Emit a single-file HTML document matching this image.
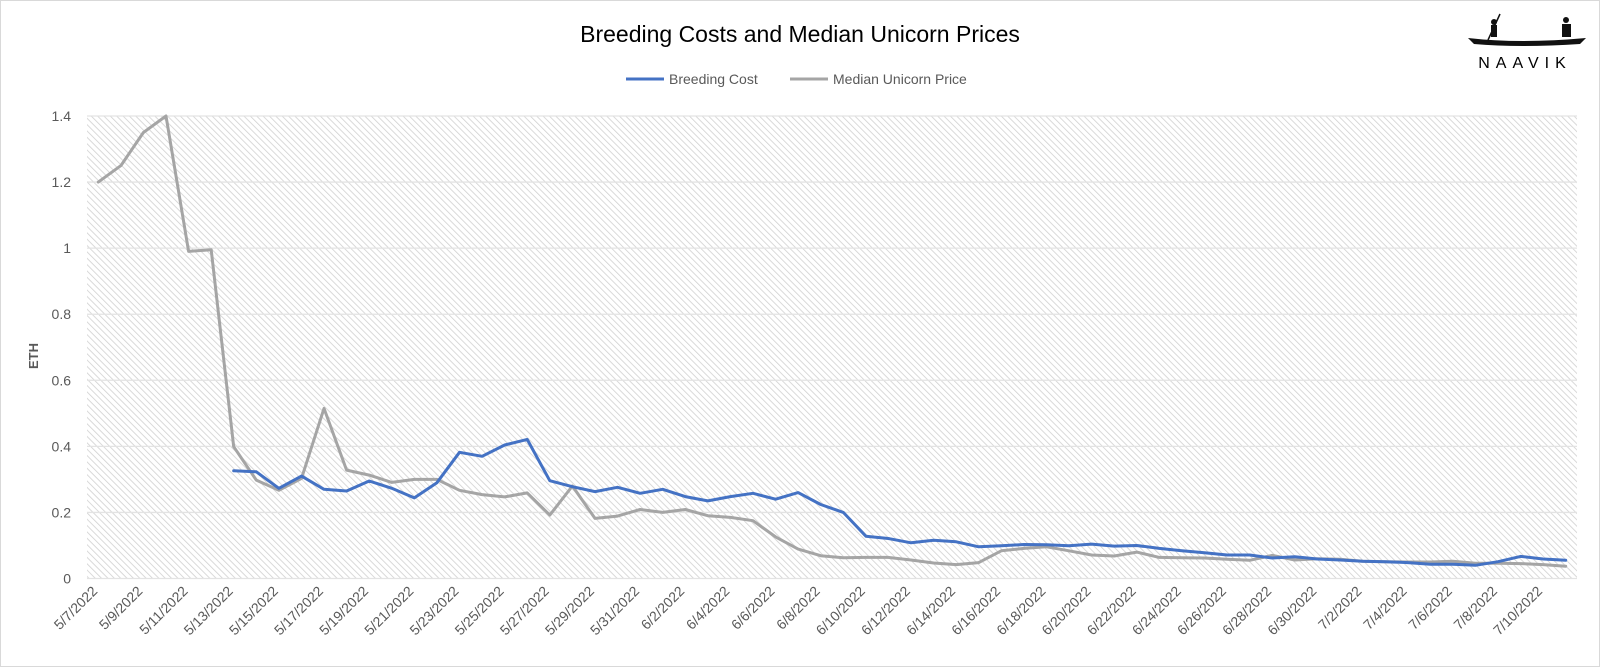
<!DOCTYPE html>
<html><head><meta charset="utf-8"><style>
body{margin:0;background:#fff;font-family:"Liberation Sans",sans-serif}
svg text{font-family:"Liberation Sans",sans-serif}
</style></head><body>
<svg id="chart" width="1600" height="667" viewBox="0 0 1600 667" xmlns="http://www.w3.org/2000/svg">
<defs>
<pattern id="hatch" patternUnits="userSpaceOnUse" width="4.5" height="4.5" patternTransform="rotate(-45)">
<rect width="4.5" height="4.5" fill="#fff"/><line x1="0" y1="0" x2="0" y2="4.5" stroke="#d0d0d0" stroke-width="1.6"/>
</pattern>
</defs>
<rect x="0.5" y="0.5" width="1599" height="666" fill="#fff" stroke="#d9d9d9"/>
<text x="800" y="42" font-size="23" text-anchor="middle" fill="#000">Breeding Costs and Median Unicorn Prices</text>
<g>
<line x1="626" y1="79" x2="664" y2="79" stroke="#4472C4" stroke-width="3"/>
<text x="669" y="84" font-size="14" fill="#595959">Breeding Cost</text>
<line x1="790" y1="79" x2="828" y2="79" stroke="#A5A5A5" stroke-width="3"/>
<text x="833" y="84" font-size="14" fill="#595959">Median Unicorn Price</text>
</g>
<g>
<path d="M1468 38 Q1520 44 1586 38 L1580 44 Q1520 48 1474 44 Z" fill="#111"/>
<line x1="1488" y1="40" x2="1500" y2="14" stroke="#111" stroke-width="1.5"/>
<circle cx="1494" cy="22" r="3" fill="#111"/><rect x="1491" y="25" width="6" height="12" fill="#111"/>
<circle cx="1566" cy="20" r="3" fill="#111"/><rect x="1562" y="24" width="9" height="13" fill="#111"/>
<text x="1525" y="68" font-size="16" text-anchor="middle" letter-spacing="6" fill="#000">NAAVIK</text>
</g>
<text transform="translate(38,356) rotate(-90)" font-size="13" font-weight="bold" text-anchor="middle" fill="#595959">ETH</text>
<g id="plot"></g>
</svg>
<script>
const categories = (function(){const a=[];const d=new Date(2022,4,7);for(let i=0;i<66;i++){const t=new Date(d.getTime()+i*86400000);a.push((t.getMonth()+1)+'/'+t.getDate()+'/'+t.getFullYear());}return a;})();
const breedingCost = [null,null,null,null,null,null,0.326,0.323,0.273,0.31,0.27,0.265,0.295,0.273,0.244,0.29,0.382,0.370,0.404,0.421,0.296,0.278,0.263,0.276,0.258,0.270,0.248,0.235,0.248,0.258,0.240,0.260,0.224,0.20,0.128,0.121,0.108,0.116,0.111,0.096,0.099,0.103,0.102,0.099,0.104,0.098,0.10,0.091,0.084,0.078,0.071,0.071,0.062,0.066,0.059,0.056,0.052,0.051,0.048,0.043,0.043,0.04,0.051,0.067,0.059,0.055];
const medianPrice = [1.2,1.25,1.35,1.4,0.99,0.995,0.399,0.298,0.267,0.303,0.515,0.328,0.313,0.291,0.300,0.300,0.267,0.254,0.247,0.259,0.192,0.28,0.182,0.189,0.209,0.2,0.209,0.19,0.185,0.175,0.126,0.089,0.069,0.063,0.064,0.064,0.056,0.047,0.042,0.048,0.084,0.091,0.096,0.084,0.071,0.068,0.08,0.064,0.063,0.062,0.058,0.055,0.07,0.056,0.06,0.058,0.052,0.051,0.05,0.05,0.052,0.046,0.046,0.045,0.042,0.037];
const yTicks = [0,0.2,0.4,0.6,0.8,1,1.2,1.4];
const yTickLabels = ['0','0.2','0.4','0.6','0.8','1','1.2','1.4'];

const NS='http://www.w3.org/2000/svg';
const L=87,R=1577,T=116,B=578.5,YMAX=1.4;
const step=(R-L)/categories.length;
const xPos=i=>L+step*(i+0.5);
const yPos=v=>B-(v/YMAX)*(B-T);
const plot=document.getElementById('plot');
function mk(tag,attrs){const e=document.createElementNS(NS,tag);for(const k in attrs)e.setAttribute(k,attrs[k]);return e;}

const bg=mk('rect',{x:L,y:T,width:R-L,height:B-T,fill:'url(#hatch)'});


plot.appendChild(bg);

yTicks.forEach((v,k)=>{
  const g=mk('line',{x1:L,x2:R,y1:yPos(v),y2:yPos(v),stroke:'#e3e3e3','stroke-width':1.3});
  
  
  plot.appendChild(g);
  const t=mk('text',{x:71,y:yPos(v)+5,'font-size':14,'text-anchor':'end',fill:'#595959'});
  t.textContent=yTickLabels[k];
  
  
  plot.appendChild(t);
});

categories.forEach((c,i)=>{
  if(i%2) return;
  const x=xPos(i),y=592;
  const t=mk('text',{x:x,y:y,'font-size':14,'text-anchor':'end',fill:'#595959',transform:`rotate(-45 ${x} ${y})`});
  t.textContent=c;
  
  
  plot.appendChild(t);
});

function line(data,color,name){
  let d='';let pen=false;
  data.forEach((v,i)=>{if(v==null){pen=false;return;}d+=(pen?'L':'M')+xPos(i).toFixed(1)+' '+yPos(v).toFixed(1)+' ';pen=true;});
  const p=mk('path',{d:d,fill:'none',stroke:color,'stroke-width':3,'stroke-linejoin':'round','stroke-linecap':'round'});
  
  
  plot.appendChild(p);
}
line(medianPrice,'#A5A5A5','median-unicorn-price-line');
line(breedingCost,'#4472C4','breeding-cost-line');
</script>
</body></html>
